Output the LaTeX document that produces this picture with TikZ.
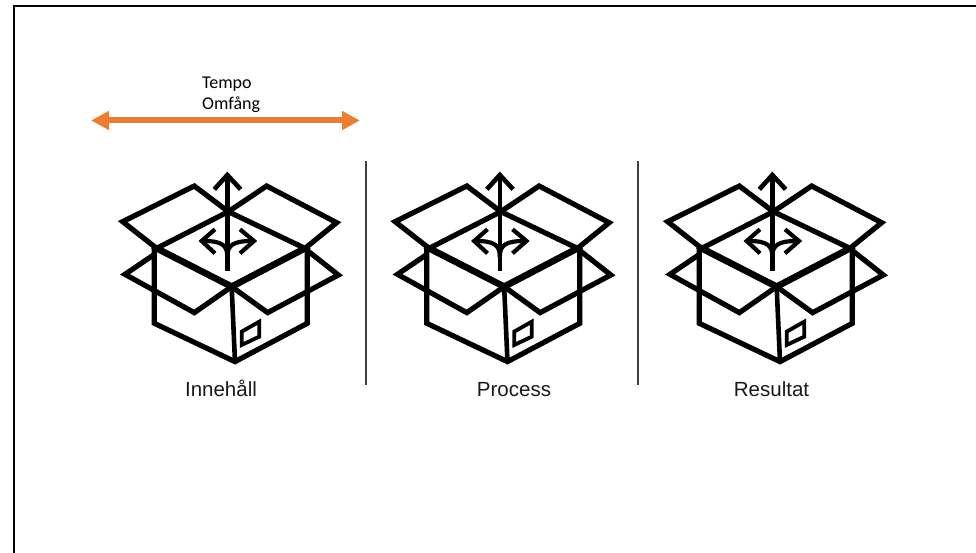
\documentclass[tikz,border=0pt]{standalone}
\usepackage{fontspec}
\setmainfont{Carlito}
\newfontfamily\iconfont{Liberation Sans}
\usetikzlibrary{positioning,arrows.meta}
\definecolor{spanorange}{HTML}{ED7D31}

\begin{document}
\begin{tikzpicture}[
				x=1pt, y=-1pt,
				frameline/.style={draw=black, line width=2.8pt},
				divider/.style={draw=black!75, line width=1.4pt},
				spanarrow/.style={draw=spanorange, line width=6pt, {Triangle[length=18pt,width=18pt]}-{Triangle[length=18pt,width=18pt]}},
				spanlabel/.style={rectangle, inner sep=0pt, align=left, font=\fontsize{18}{21}\selectfont, text=black},
				boxlabel/.style={rectangle, inner sep=0pt, anchor=base, font=\iconfont\fontsize{20.5}{22}\selectfont, text=black!90},
				boxline/.style={draw=black, line width=5.2pt, miter limit=10, x=0.3333pt, y=-0.3333pt},
				boxicon/.pic={
					\begin{scope}[boxline]
					% flaps
					\draw (385,155) -- (283,78) -- (68,185) -- (170,265);
					\draw (385,155) -- (500,78) -- (710,188) -- (615,265);
					\draw (165,282) -- (75,343) -- (283,458) -- (395,380);
					\draw (620,270) -- (715,345) -- (503,458) -- (395,380);
					% rim and box
					\draw (385,155) -- (170,265) -- (395,380) -- (615,265) -- cycle;
					\draw[line width=6.6pt] (170,265) -- (395,380) -- (615,265);
					\draw (163,265) -- (163,490) -- (405,605) -- (622,490) -- (622,265);
					\draw[line width=4.6pt] (395,380) -- (405,605);
					\draw[line width=3.8pt] (425,515) -- (478,485) -- (478,530) -- (425,555) -- cycle;
					% arrows on the lid
					\draw[line width=4.6pt] (382,333) -- (382,45);
					\draw[line width=4.6pt] (343,88) -- (382,45) -- (422,88);
					\draw[line width=4.2pt] (382,290) .. controls (382,255) and (365,243) .. (310,243);
					\draw[line width=4.2pt] (382,290) .. controls (382,255) and (400,243) .. (457,243);
					\draw[line width=4.2pt] (345,208) -- (305,243) -- (345,280);
					\draw[line width=4.2pt] (420,208) -- (462,243) -- (420,280);
					\end{scope}
				}
			]
			\useasboundingbox (0,0) rectangle (976,553);
			\coordinate (framebottom) at (14,553);
			\coordinate (framecorner) at (14,6);
			\coordinate (frameright) at (976,6);
			\draw[frameline] (framebottom) -- (framecorner) -- (frameright);
			\coordinate (spanleft) at (91,120.5);
			\coordinate (spanright) at (360,120.5);
			\draw[spanarrow] (spanleft) -- (spanright);
			\node[spanlabel, anchor=south west] (spantext) at (202,113) {Tempo\\Omfång};
			\pic (contentbox) at (100,160) {boxicon};
			\pic (processbox) at (372.5,160) {boxicon};
			\pic (resultbox) at (645,160) {boxicon};
			\node[boxlabel] (content) at (221,396) {Innehåll};
			\node[boxlabel] (process) at (514,396) {Process};
			\node[boxlabel] (result) at (771.5,396) {Resultat};
			\coordinate (divonetop) at (366,161);
			\coordinate (divonebottom) at (366,385);
			\coordinate (divtwotop) at (638,161);
			\coordinate (divtwobottom) at (638,385);
			\draw[divider] (divonetop) -- (divonebottom);
			\draw[divider] (divtwotop) -- (divtwobottom);
			\end{tikzpicture}
\end{document}
